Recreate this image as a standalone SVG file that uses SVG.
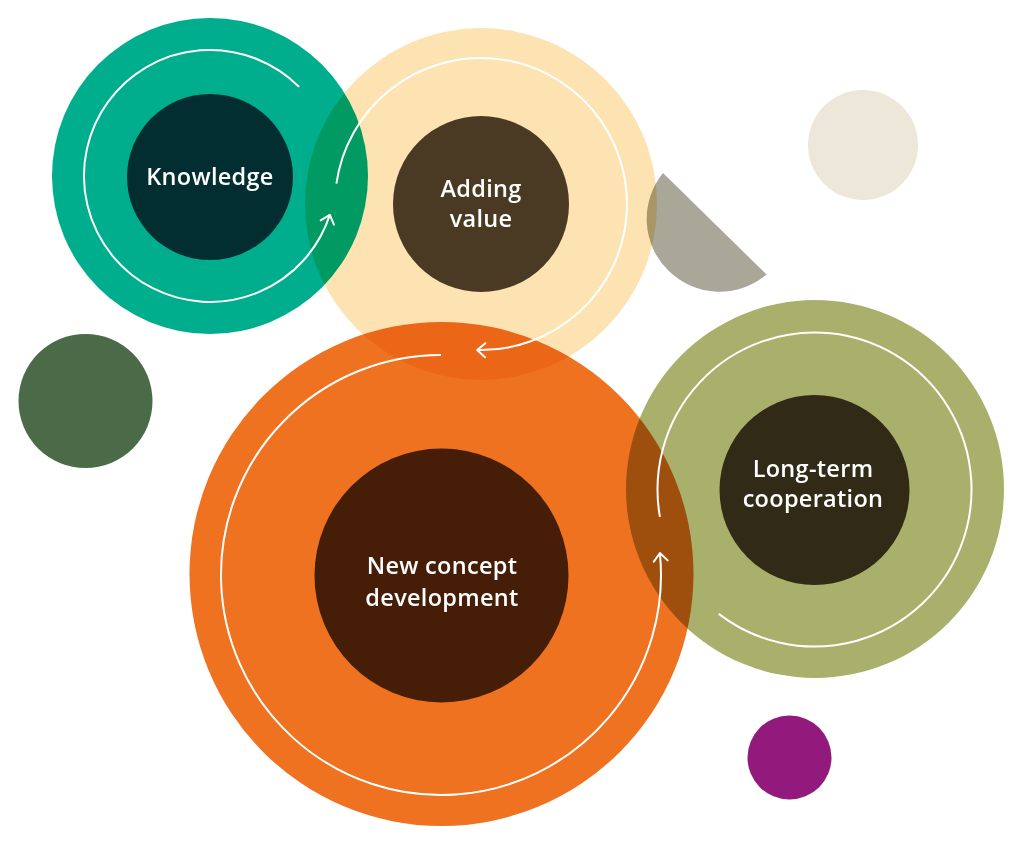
<svg xmlns="http://www.w3.org/2000/svg" width="1024" height="852" viewBox="0 0 1024 852">
  <style>
    .blob { mix-blend-mode: multiply; }
    .ring { fill: none; stroke: #ffffff; stroke-width: 2; stroke-linecap: butt; }
    .lbl { font-family: "Open Sans", "Liberation Sans", sans-serif; font-size: 23.5px; font-weight: 600; fill: #ffffff; text-anchor: middle; letter-spacing: 0.3px; }
  </style>
  <defs>
    <marker id="chev" markerUnits="userSpaceOnUse" markerWidth="24" markerHeight="24" viewBox="-12 -12 24 24" refX="0" refY="0" orient="auto">
      <path d="M -8 -7 L 0 0 L -8 7" fill="none" stroke="#ffffff" stroke-width="2" stroke-linecap="round" stroke-linejoin="round"/>
    </marker>
  </defs>

  <rect x="0" y="0" width="1024" height="852" fill="#ffffff"/>

  <!-- decorative shapes -->
  <g id="decor">
    <circle cx="85.5" cy="401" r="67" fill="#4a6a48"/>
    <circle cx="863" cy="145" r="55" fill="#ece7d8"/>
    <circle cx="789.5" cy="757.5" r="42" fill="#931a7d"/>
    <path d="M 663 173 A 72.8 72.8 0 0 0 766.5 274.5 Z" fill="#a9a797" class="blob"/>
  </g>

  <g id="node-knowledge">
    <circle cx="210" cy="176" r="158" fill="#00ad8c" class="blob"/>
  </g>
  <g id="node-adding-value">
    <circle cx="481" cy="204" r="176" fill="#fde3b2" class="blob"/>
  </g>
  <g id="node-new-concept">
    <circle cx="441.5" cy="574" r="252" fill="#ee7220" class="blob"/>
  </g>
  <g id="node-long-term">
    <circle cx="815" cy="489" r="189" fill="#a9b06c" class="blob"/>
  </g>

  <g id="cores">
    <circle cx="210" cy="177" r="83" fill="#022e31"/>
    <circle cx="481" cy="204" r="88" fill="#4a3923"/>
    <circle cx="441.5" cy="575.5" r="127" fill="#461d07"/>
    <circle cx="814.5" cy="490" r="95" fill="#312a17"/>
  </g>

  <g id="connectors">
    <path class="ring" d="M 299.1 86.9 A 126 126 0 1 0 329.8 214.9" marker-end="url(#chev)"/>
    <path class="ring" d="M 336.4 183.7 A 146 146 0 1 1 477.2 350" marker-end="url(#chev)"/>
    <path class="ring" d="M 441 355 A 220 220 0 1 0 659.9 553.1" marker-end="url(#chev)"/>
    <path class="ring" d="M 659.9 516.8 A 157 157 0 1 1 718.7 613.9"/>
  </g>

  <g id="labels">
    <text class="lbl" x="210" y="185">Knowledge</text>
    <text class="lbl" x="481" y="197">Adding</text>
    <text class="lbl" x="481" y="227">value</text>
    <text class="lbl" x="442" y="574">New concept</text>
    <text class="lbl" x="442" y="606">development</text>
    <text class="lbl" x="813" y="477">Long-term</text>
    <text class="lbl" x="813" y="507">cooperation</text>
  </g>
</svg>
